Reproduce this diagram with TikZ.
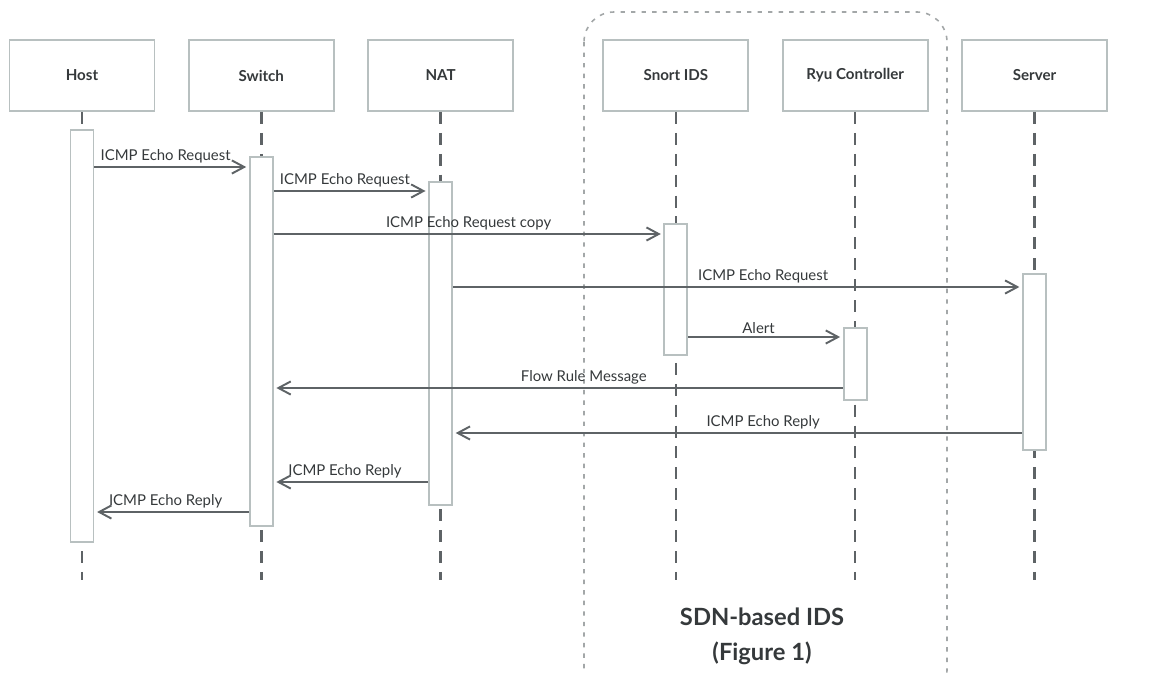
\documentclass[tikz,border=0pt]{standalone}
\usepackage{fontspec}
\setmainfont{Lato}
\usetikzlibrary{arrows.meta}
\usetikzlibrary{positioning}
\definecolor{lineGray}{HTML}{5E6366}
\definecolor{boxGray}{HTML}{B8C0C0}
\definecolor{textGray}{HTML}{35393B}
\definecolor{groupGray}{HTML}{A3A7A8}
\tikzstyle{actor}=[draw=boxGray,line width=1.1pt,fill=white,minimum width=2.9cm,minimum height=1.42cm,inner sep=1pt,text=textGray,font=\fontsize{8.6}{10}\selectfont\bfseries]
\tikzstyle{act}=[draw=boxGray,line width=1.1pt,fill=white,minimum width=0.46cm,inner sep=0pt]
\tikzstyle{lifeline}=[draw=lineGray,line width=1.4pt,dash pattern=on 6.8pt off 5.1pt]
\tikzstyle{msg}=[draw=lineGray,line width=1.1pt,shorten >=1.5pt,-{Straight Barb[length=7pt,width=7.5pt]}]
\tikzstyle{lbl}=[above,inner sep=1.5pt,text=textGray,font=\fontsize{8.5}{10}\selectfont]

\begin{document}
\begin{tikzpicture}[x=0.02cm,y=-0.02cm]
\clip (0,0) rectangle (1158,672);
% the SDN-based IDS group
\draw[groupGray,line width=0.9pt,dash pattern=on 2.5pt off 3.5pt,rounded corners=0.6cm] (584,12) rectangle (947,700);
\node[font=\fontsize{13.5}{19.8}\selectfont\bfseries,text=textGray,align=center] (title) at (762,636) {SDN-based IDS\\(Figure 1)};

% participants
\node[actor] (host) at (82,75.5) {Host};
\node[actor,right=0.648cm of host] (switch) {Switch};
\node[actor,right=0.648cm of switch] (nat) {NAT};
\node[actor,right=1.768cm of nat] (snort) {Snort IDS};
\node[actor,right=0.648cm of snort] (ryu) {Ryu Controller};
\node[actor,right=0.648cm of ryu] (server) {Server};

\coordinate (bottom) at (0,580);
\foreach \n in {host,switch,nat,snort,ryu,server}
  \draw[lifeline] (\n.south) -- (\n.south |- bottom);

% activations
\node[act,minimum height=8.24cm,below=0.34cm of host] (hostA) {};
\node[act,minimum height=7.38cm,below=0.88cm of switch] (switchA) {};
\node[act,minimum height=6.46cm,below=1.38cm of nat] (natA) {};
\node[act,minimum height=2.62cm,below=2.22cm of snort] (snortA) {};
\node[act,minimum height=1.44cm,below=4.3cm of ryu] (ryuA) {};
\node[act,minimum height=3.52cm,below=3.22cm of server] (serverA) {};

% messages
\coordinate (m1) at (0,167);
\coordinate (m2) at (0,191);
\coordinate (m3) at (0,234);
\coordinate (m4) at (0,287);
\coordinate (m5) at (0,337);
\coordinate (m6) at (0,388);
\coordinate (m7) at (0,433);
\coordinate (m8) at (0,482);
\coordinate (m9) at (0,512);
\draw[msg] (hostA.east |- m1) -- node[lbl,xshift=-0.12cm]{ICMP Echo Request} (switchA.west |- m1);
\draw[msg] (switchA.east |- m2) -- node[lbl,xshift=-0.12cm]{ICMP Echo Request} (natA.west |- m2);
\draw[msg] (switchA.east |- m3) -- node[lbl]{ICMP Echo Request copy} (snortA.west |- m3);
\draw[msg] (natA.east |- m4) -- node[lbl,pos=0.545]{ICMP Echo Request} (serverA.west |- m4);
\draw[msg] (snortA.east |- m5) -- node[lbl,xshift=-0.14cm]{Alert} (ryuA.west |- m5);
\draw[msg] (ryuA.west |- m6) -- node[lbl,pos=0.455]{Flow Rule Message} (switchA.east |- m6);
\draw[msg] (serverA.west |- m7) -- node[lbl,pos=0.455]{ICMP Echo Reply} (natA.east |- m7);
\draw[msg] (natA.west |- m8) -- node[lbl,xshift=-0.12cm]{ICMP Echo Reply} (switchA.east |- m8);
\draw[msg] (switchA.west |- m9) -- node[lbl,xshift=-0.12cm]{ICMP Echo Reply} (hostA.east |- m9);
\end{tikzpicture}
\end{document}
